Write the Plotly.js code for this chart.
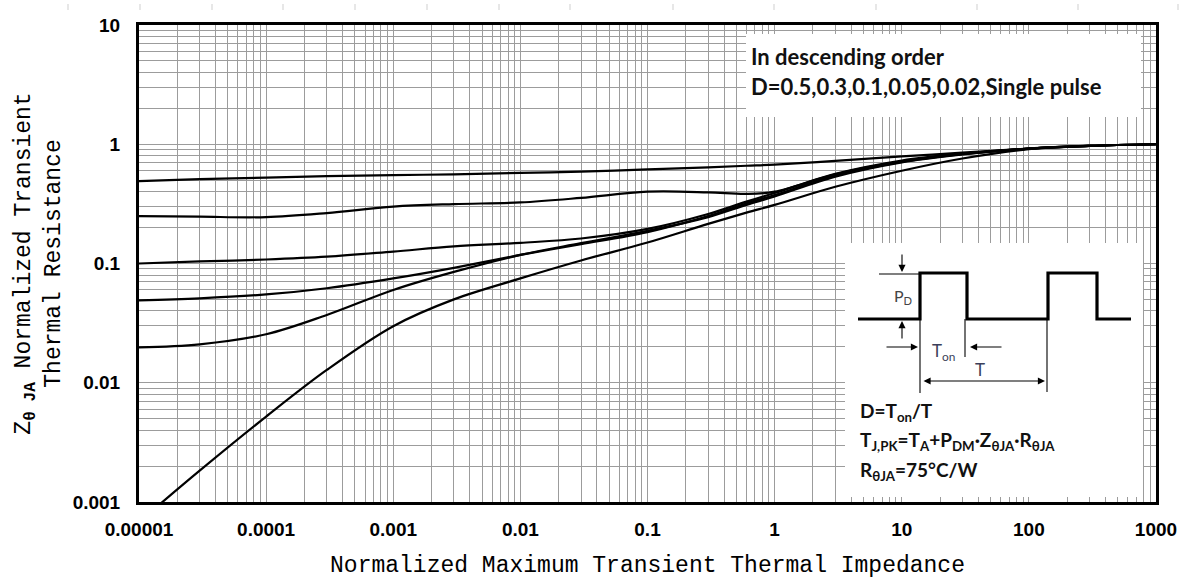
<!DOCTYPE html>
<html>
<head>
<meta charset="utf-8">
<script src="https://cdn.plot.ly/plotly-3.0.1.min.js"></script>
<style>
html,body{margin:0;padding:0;background:#fff;}
#chart{width:1188px;height:579px;}
</style>
</head>
<body>
<div id="chart"></div>
<script>
// ---- data ----
const xValues = [1e-5,3e-5,1e-4,3e-4,1e-3,3e-3,0.01,0.03,0.1,0.3,0.6,1,3,10,30,100,300,1000];
const d050    = [0.49,0.51,0.525,0.54,0.55,0.56,0.575,0.59,0.615,0.64,0.66,0.675,0.725,0.79,0.85,0.92,0.97,1.0];
const d030    = [0.25,0.247,0.245,0.265,0.30,0.315,0.325,0.355,0.40,0.395,0.383,0.40,0.565,0.73,0.835,0.92,0.97,1.0];
const d010    = [0.100,0.104,0.108,0.114,0.126,0.139,0.149,0.162,0.195,0.26,0.33,0.39,0.56,0.72,0.83,0.92,0.97,1.0];
const d005    = [0.049,0.051,0.055,0.062,0.075,0.092,0.118,0.145,0.183,0.25,0.32,0.375,0.545,0.71,0.825,0.92,0.97,1.0];
const d002    = [0.0198,0.021,0.0255,0.037,0.060,0.085,0.118,0.148,0.188,0.245,0.31,0.365,0.535,0.705,0.82,0.92,0.97,1.0];
const dSingle = [0.00068,0.00183,0.0052,0.0128,0.0298,0.050,0.075,0.106,0.150,0.215,0.267,0.31,0.44,0.60,0.76,0.91,0.97,1.0];
const seriesNames = ['D=0.5','D=0.3','D=0.1','D=0.05','D=0.02','Single pulse'];

const xDecades = [1e-5,1e-4,1e-3,0.01,0.1,1,10,100,1000];
const xTickLabels = ['0.00001','0.0001','0.001','0.01','0.1','1','10','100','1000'];
const yDecades = [0.001,0.01,0.1,1,10];
const yTickLabels = ['0.001','0.01','0.1','1','10'];

// minor grid positions 2..9 inside each decade
function minorVals(decades){
  const v=[];
  for(let i=0;i<decades.length-1;i++){ for(let k=2;k<=9;k++) v.push(decades[i]*k); }
  return v;
}

const allSeries = [d050,d030,d010,d005,d002,dSingle];
const traces = allSeries.map((ys,i)=>({
  x: xValues, y: ys, name: seriesNames[i], type:'scatter', mode:'lines',
  line:{color:'#000', width:2.2, shape:'spline', smoothing:1},
  hoverinfo:'skip', showlegend:false
}));

// ---- page geometry helpers for decorations ----
const L=139, R=1156, T=25, B=502;
const px = v => (v-L)/(R-L);
const py = v => (B-v)/(B-T);

const shapes = [];
// faint ruler ticks at the very top
[68,140,212,283,355,427,499,570,673,774,876,977,1078,1178].forEach(x=>{
  shapes.push({type:'line', xref:'paper', yref:'paper', x0:px(x), x1:px(x), y0:py(4), y1:py(10), line:{color:'#cfcfcf', width:1}});
});
// white boxes
shapes.push({type:'rect', xref:'paper', yref:'paper', x0:px(746), x1:px(1141), y0:py(34), y1:py(117), fillcolor:'#fff', line:{width:0}, layer:'above'});
shapes.push({type:'rect', xref:'paper', yref:'paper', x0:px(845), x1:px(1143), y0:py(243), y1:py(497), fillcolor:'#fff', line:{width:0}, layer:'above'});
// pulse waveform
const wave = `M ${px(858)},${py(319)} L ${px(920)},${py(319)} L ${px(920)},${py(273)} L ${px(967)},${py(273)} L ${px(967)},${py(319)} L ${px(1048)},${py(319)} L ${px(1048)},${py(273)} L ${px(1097)},${py(273)} L ${px(1097)},${py(319)} L ${px(1131)},${py(319)}`;
shapes.push({type:'path', xref:'paper', yref:'paper', path:wave, line:{color:'#000', width:3.2}, layer:'above'});
function thin(x0,y0,x1,y1){
  shapes.push({type:'line', xref:'paper', yref:'paper', x0:px(x0), y0:py(y0), x1:px(x1), y1:py(y1), line:{color:'#000', width:1.1}, layer:'above'});
}
thin(879,274,920,274);
thin(920,319,920,393);
thin(965,319,965,357);
thin(1047,319,1047,392);

const boxFont = {family:'Lato, "Open Sans", sans-serif', size:22, color:'#111'};
const insetFont = {family:'Lato, "Open Sans", sans-serif', size:19, color:'#111'};
const annotations = [
  {xref:'paper', yref:'paper', x:px(749), y:py(57), xanchor:'left', yanchor:'middle', showarrow:false, text:'<b>In descending order</b>', font:boxFont},
  {xref:'paper', yref:'paper', x:px(749), y:py(86), xanchor:'left', yanchor:'middle', showarrow:false, text:'<b>D=0.5,0.3,0.1,0.05,0.02,Single pulse</b>', font:boxFont},
  {xref:'paper', yref:'paper', x:px(858), y:py(412), xanchor:'left', yanchor:'middle', showarrow:false, text:'<b>D=T<sub>on</sub>/T</b>', font:insetFont},
  {xref:'paper', yref:'paper', x:px(858), y:py(441), xanchor:'left', yanchor:'middle', showarrow:false, text:'<b>T<sub>J,PK</sub>=T<sub>A</sub>+P<sub>DM</sub>·Z<sub>θJA</sub>·R<sub>θJA</sub></b>', font:insetFont},
  {xref:'paper', yref:'paper', x:px(858), y:py(471), xanchor:'left', yanchor:'middle', showarrow:false, text:'<b>R<sub>θJA</sub>=75°C/W</b>', font:insetFont},
  {xref:'paper', yref:'paper', x:px(903), y:py(296), xanchor:'center', yanchor:'middle', showarrow:false, text:'P<sub>D</sub>', font:{family:'Lato, sans-serif', size:16, color:'#444'}},
  {xref:'paper', yref:'paper', x:px(943), y:py(352), xanchor:'center', yanchor:'middle', showarrow:false, text:'T<sub>on</sub>', font:{family:'Lato, sans-serif', size:17, color:'#3b3f5a'}},
  {xref:'paper', yref:'paper', x:px(980), y:py(369), xanchor:'center', yanchor:'middle', showarrow:false, text:'T', font:{family:'Lato, sans-serif', size:17, color:'#3b3f5a'}},
];
function arrow(tx,ty,ax,ay,both){
  const a = {xref:'paper', yref:'paper', x:px(tx), y:py(ty), ax:ax, ay:ay, text:'', showarrow:true, arrowhead:2, arrowsize:1.3, arrowwidth:1.1, arrowcolor:'#000'};
  if(both){ a.arrowside='end+start'; a.startarrowhead=2; a.startarrowsize=1.3; }
  annotations.push(a);
}
arrow(902,272,0,-19);
arrow(902,321,0,19);
arrow(918,347,-33,0);
arrow(970,347,33,0);
arrow(1045,381,-123,0,true);

const tickFont = {family:'"Liberation Sans", Arial, sans-serif', size:19, color:'#000', weight:'bold'};
const titleFont = {family:'"Liberation Mono", "Courier New", monospace', size:23, color:'#000'};
const gridCol = '#9c9c9c';

const layout = {
  width:1188, height:579,
  margin:{l:L, r:1188-R, t:T, b:579-B},
  paper_bgcolor:'#fff', plot_bgcolor:'#fff',
  showlegend:false,
  xaxis:{
    type:'log', range:[-5,3], tickmode:'array', tickvals:xDecades, ticktext:xTickLabels,
    showgrid:true, gridcolor:gridCol, gridwidth:1, zeroline:false,
    minor:{tickmode:'array', tickvals:minorVals(xDecades), showgrid:true, gridcolor:gridCol, gridwidth:1, ticks:''},
    showline:true, linecolor:'#000', linewidth:3, mirror:true, ticks:'',
    tickfont:tickFont, ticklabelstandoff:8,
    title:{text:'Normalized Maximum Transient Thermal Impedance', font:titleFont, standoff:18}
  },
  yaxis:{
    type:'log', range:[-3,1], tickmode:'array', tickvals:yDecades, ticktext:yTickLabels,
    showgrid:true, gridcolor:gridCol, gridwidth:1, zeroline:false,
    minor:{tickmode:'array', tickvals:minorVals(yDecades), showgrid:true, gridcolor:gridCol, gridwidth:1, ticks:''},
    showline:true, linecolor:'#000', linewidth:3, mirror:true, ticks:'',
    tickfont:tickFont, ticklabelstandoff:12,
    title:{text:'Z<sub><b>θ JA</b></sub> Normalized Transient<br>Thermal Resistance', font:titleFont, standoff:6}
  },
  shapes:shapes,
  annotations:annotations
};

Plotly.newPlot('chart', traces, layout, {staticPlot:true, displayModeBar:false});
</script>
</body>
</html>
